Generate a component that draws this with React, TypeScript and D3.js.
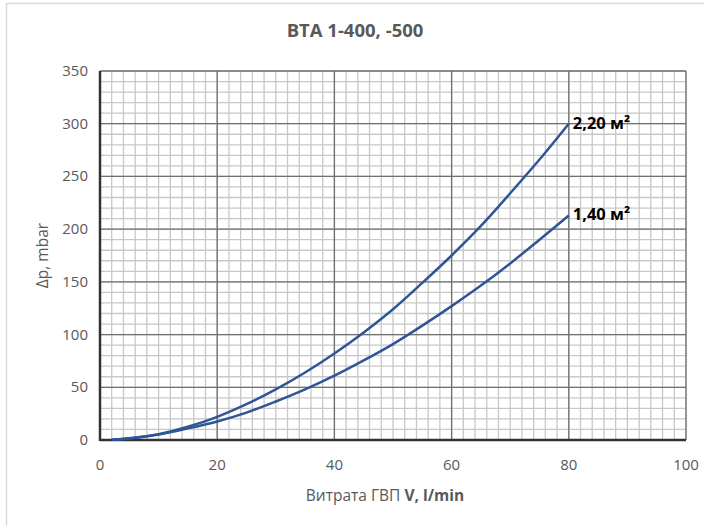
import * as d3 from "d3";

const TITLE = "BTA 1-400, -500";
const X_TICKS = [0, 20, 40, 60, 80, 100];
const Y_TICKS = [0, 50, 100, 150, 200, 250, 300, 350];

// flow, l/min
const FLOW = [2, 5, 10, 15, 20, 25, 30, 35, 40, 45, 50, 55, 60, 65, 70, 75, 80];
// pressure drop, mbar
const DP_220 = [0.3, 1.5, 5.5, 12.5, 22, 34, 48, 64, 82, 102, 124, 149, 175, 203, 234, 266, 300];
const DP_140 = [0.3, 1.6, 5.3, 11, 17.6, 26, 36.5, 48, 61, 75.5, 91, 108.5, 127, 146.5, 167.5, 190, 213];

const SERIES = [
  { label: "2,20 м²", values: DP_220 },
  { label: "1,40 м²", values: DP_140 },
];

const W = 704;
const H = 526;
const M = { left: 100, right: 18, top: 71, bottom: 86 };
const FONT = "'Open Sans', 'Liberation Sans', sans-serif";
const GREY = "#595959";
const BLUE = "#2f5597";

export default function App() {
  const x = d3.scaleLinear().domain([0, 100]).range([M.left, W - M.right]);
  const y = d3.scaleLinear().domain([0, 350]).range([H - M.bottom, M.top]);

  const minorX = d3.range(0, 101, 2);
  const minorY = d3.range(0, 351, 10);

  const line = d3
    .line<[number, number]>()
    .x((d) => x(d[0]))
    .y((d) => y(d[1]))
    .curve(d3.curveMonotoneX);

  return (
    <svg
      width={W}
      height={H}
      style={{ position: "absolute", left: 0, top: 0, background: "#fff" }}
      fontFamily={FONT}
    >
      {/* chart frame */}
      <rect x={6.5} y={3.5} width={W + 10} height={H + 10} fill="#fff" stroke="#d9d9d9" strokeWidth={1.5} />

      <text x={355} y={37} textAnchor="middle" fontSize={18.5} fontWeight="bold" fill={GREY}>
        {TITLE}
      </text>

      {/* minor grid */}
      <g stroke="#c8c8c8" strokeWidth={1.3}>
        {minorX.map((v) => (
          <line key={"mx" + v} x1={x(v)} x2={x(v)} y1={y(0)} y2={y(350)} />
        ))}
        {minorY.map((v) => (
          <line key={"my" + v} x1={x(0)} x2={x(100)} y1={y(v)} y2={y(v)} />
        ))}
      </g>
      {/* major grid */}
      <g stroke="#707070" strokeWidth={1.3}>
        {X_TICKS.map((v) => (
          <line key={"Mx" + v} x1={x(v)} x2={x(v)} y1={y(0)} y2={y(350)} />
        ))}
        {Y_TICKS.map((v) => (
          <line key={"My" + v} x1={x(0)} x2={x(100)} y1={y(v)} y2={y(v)} />
        ))}
      </g>
      {/* axes */}
      <line x1={x(0)} x2={x(0)} y1={y(0) + 1} y2={y(350)} stroke="#333" strokeWidth={2.5} />
      <line x1={x(0)} x2={x(100)} y1={y(0)} y2={y(0)} stroke="#333" strokeWidth={2.5} />

      {/* tick labels */}
      {Y_TICKS.map((v) => (
        <text key={"yt" + v} x={88} y={y(v) + 5} textAnchor="end" fontSize={15} fill={GREY}>
          {v}
        </text>
      ))}
      {X_TICKS.map((v) => (
        <text key={"xt" + v} x={x(v)} y={470} textAnchor="middle" fontSize={15} fill={GREY}>
          {v}
        </text>
      ))}

      <text x={385} y={501} textAnchor="middle" fontSize={15.5} fill={GREY}>
        Витрата ГВП <tspan fontWeight="bold">V, l/min</tspan>
      </text>
      <text
        transform={`translate(48, ${y(175)}) rotate(-90)`}
        textAnchor="middle"
        fontSize={15.5}
        fill={GREY}
      >
        Δp, mbar
      </text>

      {SERIES.map((s) => {
        const pts = FLOW.map((f, i) => [f, s.values[i]] as [number, number]);
        const last = pts[pts.length - 1];
        return (
          <g key={s.label}>
            <path d={line(pts) ?? ""} fill="none" stroke={BLUE} strokeWidth={2.5} />
            <text x={x(last[0]) + 4} y={y(last[1]) + 5} fontSize={16.5} fontWeight="bold" fill="#000">
              {s.label}
            </text>
          </g>
        );
      })}
    </svg>
  );
}
